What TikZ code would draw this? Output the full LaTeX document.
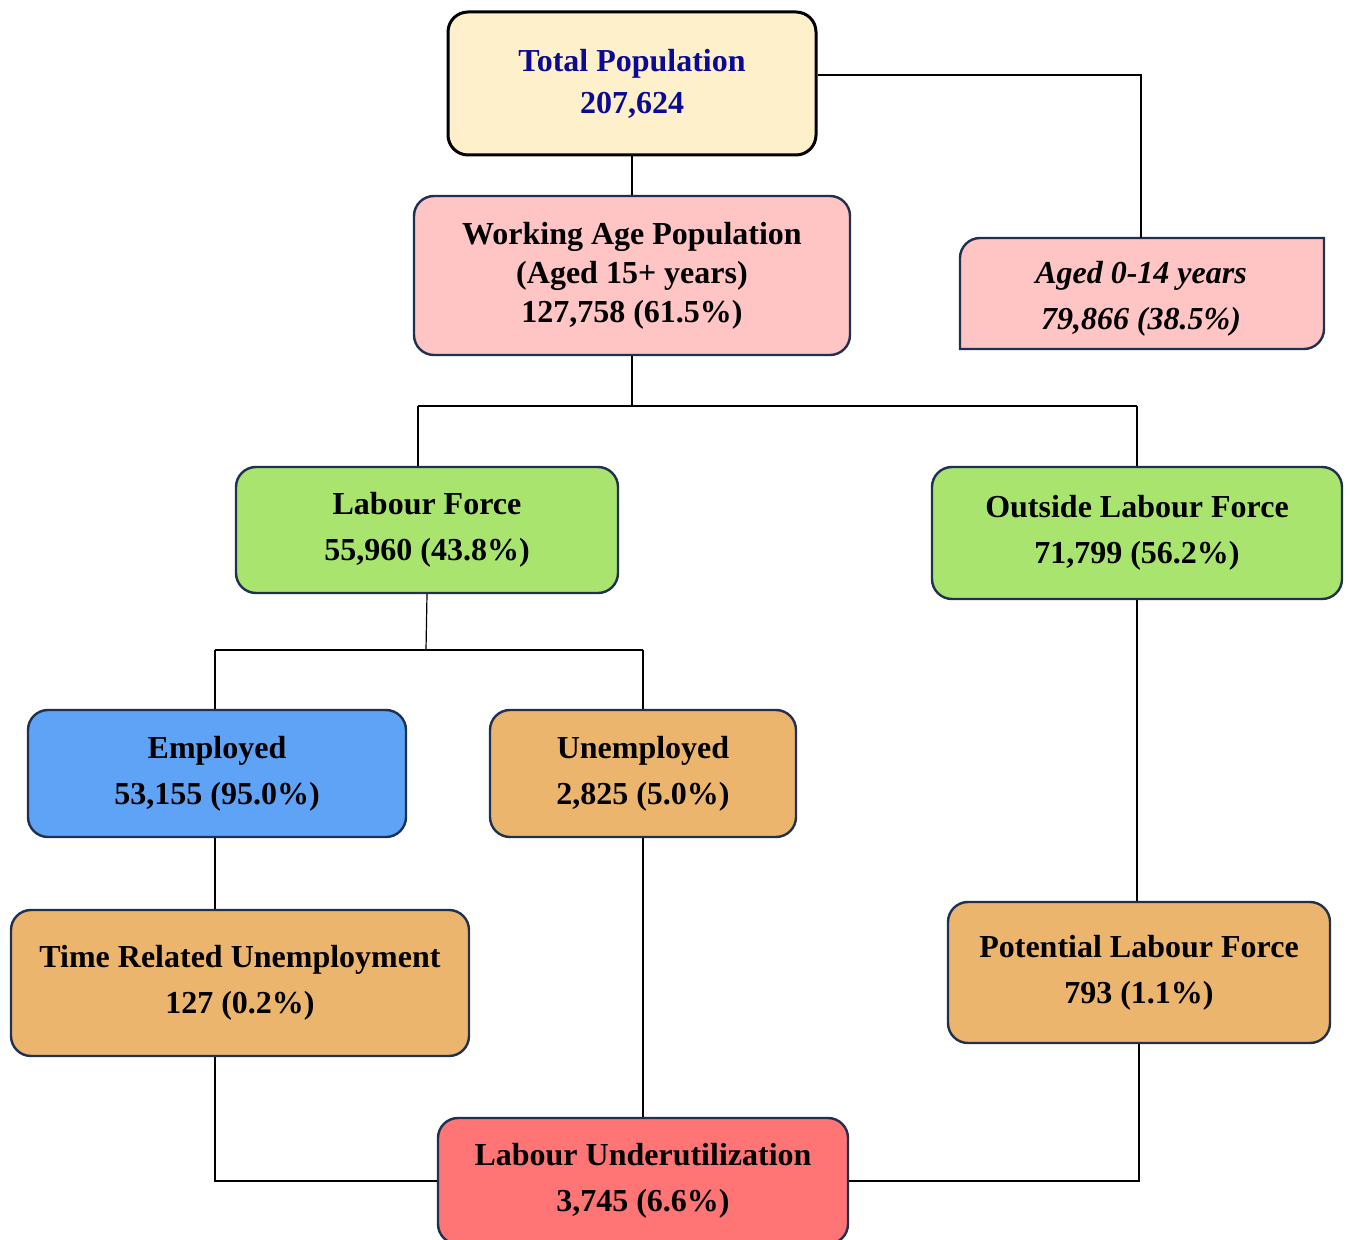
\documentclass[tikz,border=0pt]{standalone}
\usepackage{fontspec}
\setmainfont{Liberation Serif}
\definecolor{boxline}{HTML}{1F3050}
\definecolor{totalfill}{HTML}{FFF0CC}
\definecolor{totaltext}{HTML}{0A0A96}
\definecolor{agefill}{HTML}{FFC4C4}
\definecolor{forcefill}{HTML}{A9E46F}
\definecolor{empfill}{HTML}{5FA3F6}
\definecolor{unempfill}{HTML}{EBB56D}
\definecolor{underfill}{HTML}{FF7575}
\tikzset{
  box/.style={draw=boxline, line width=1.2pt, rounded corners=10pt, align=center, inner sep=2pt,
    font=\fontsize{16}{23}\selectfont\bfseries},
  conn/.style={line width=0.6pt},
}
\begin{document}
\begin{tikzpicture}[x=0.5pt,y=0.5pt,yscale=-1,xscale=1]
        \useasboundingbox (0,0) rectangle (1350,1240);

        % Top row
        \node[box, draw=black, line width=1.5pt, fill=totalfill, text=totaltext, minimum width=184pt, minimum height=71.5pt,
          font=\fontsize{16}{21}\selectfont\bfseries] (total) at (632,83.5) {Total Population\\207,624};
        \node[box, fill=agefill, minimum width=218pt, minimum height=79.5pt,
          font=\fontsize{16}{19.5}\selectfont\bfseries] (working) at (632,275.5) {Working Age Population\\(Aged 15+ years)\\127,758 (61.5\%)};
        %Shape: only two corners rounded
        \draw[draw=boxline, fill=agefill, line width=1.2pt] (960,258) .. controls (960,247) and (969,238) .. (980,238) -- (1324,238) -- (1324,329) .. controls (1324,340) and (1315,349) .. (1304,349) -- (960,349) -- cycle;
        \node[align=center, font=\fontsize{16}{23}\selectfont\bfseries\itshape] (young) at (1141,299) {Aged 0-14 years\\79,866 (38.5\%)};

        % Labour force split
        \node[box, fill=forcefill, minimum width=191pt, minimum height=63pt] (labour) at (427,530) {Labour Force\\55,960 (43.8\%)};
        \node[box, fill=forcefill, minimum width=205pt, minimum height=66pt] (outside) at (1137,533) {Outside Labour Force\\71,799 (56.2\%)};

        % Employment split
        \node[box, fill=empfill, minimum width=189pt, minimum height=63.5pt] (employed) at (217,773.5) {Employed\\53,155 (95.0\%)};
        \node[box, fill=unempfill, minimum width=153pt, minimum height=63.5pt] (unemployed) at (643,773.5) {Unemployed\\2,825 (5.0\%)};

        % Underutilization parts
        \node[box, fill=unempfill, minimum width=229pt, minimum height=73pt] (timerel) at (240,983) {Time Related Unemployment\\127 (0.2\%)};
        \node[box, fill=unempfill, minimum width=191pt, minimum height=70.5pt] (potential) at (1139,972.5) {Potential Labour Force\\793 (1.1\%)};
        \node[box, fill=underfill, minimum width=205pt, minimum height=63pt] (under) at (643,1181) {Labour Underutilization\\3,745 (6.6\%)};

        \coordinate (wsplit) at (634,406);
        \coordinate (lsplit) at (426,650);

        %Straight Lines
        \draw[conn] (total.east |- 0,75) -| (young.north |- 0,238);
        \draw[conn] (total.south) -- (working.north);
        \draw[conn] (working.south) -- (working.south |- wsplit);
        \draw[line width=1.2pt] (418,406) -- (outside.north |- wsplit);
        \draw[conn] (418,406) -- (labour.north -| 418,0);
        \draw[conn] (outside.north |- wsplit) -- (outside.north);
        \draw[conn] (labour.south) -- (lsplit);
        \draw[conn] (215,650) -- (unemployed.north |- lsplit);
        \draw[conn] (215,650) -- (employed.north -| 215,0);
        \draw[conn] (unemployed.north |- lsplit) -- (unemployed.north);
        \draw[conn] (employed.south -| 215,0) -- (timerel.north -| 215,0);
        \draw[conn] (unemployed.south) -- (under.north);
        \draw[conn] (outside.south) -- (outside.south |- potential.north);
        \draw[conn] (timerel.south -| 215,0) |- (under.west);
        \draw[conn] (potential.south) |- (under.east);

\end{tikzpicture}
\end{document}
